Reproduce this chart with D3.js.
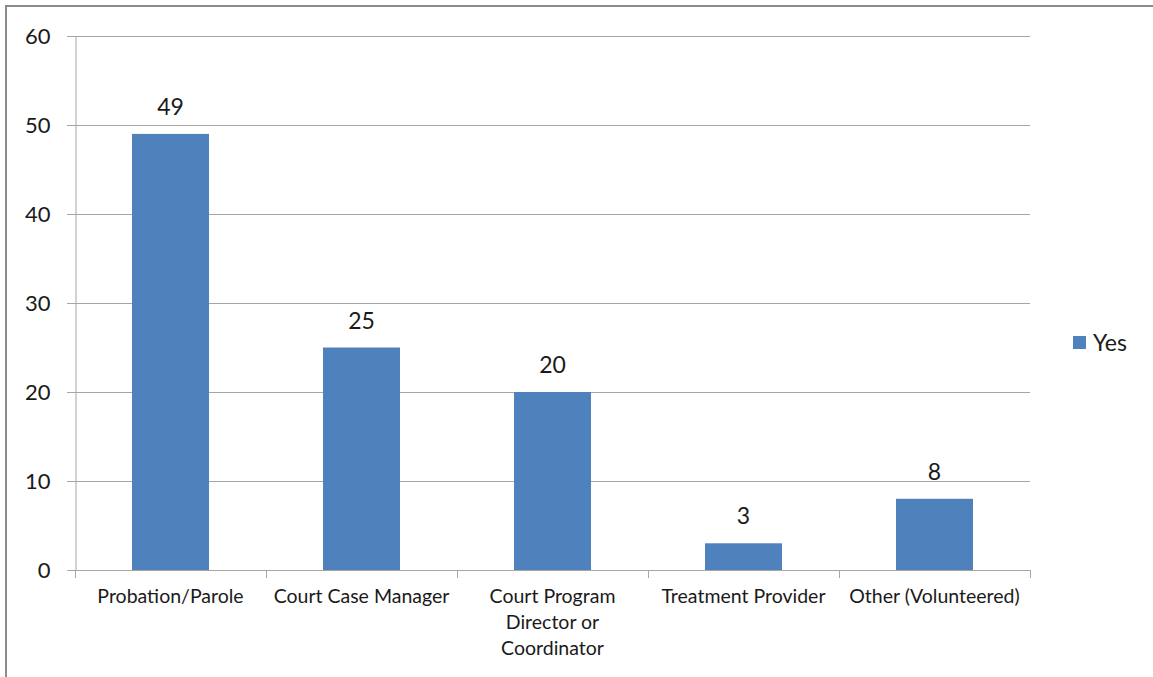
<!DOCTYPE html>
<html>
<head>
<meta charset="utf-8">
<script src="https://cdn.jsdelivr.net/npm/d3@7"></script>
<style>
  html, body { margin: 0; padding: 0; background: #fff; }
  svg { display: block; font-family: Lato, "Open Sans", sans-serif; }
</style>
</head>
<body>
<svg id="chart" width="1153" height="677"></svg>
<script>
// Categories and their "Yes" counts
const categories = [
  ["Probation/Parole"],
  ["Court Case Manager"],
  ["Court Program", "Director or", "Coordinator"],
  ["Treatment Provider"],
  ["Other (Volunteered)"]
];
const yesValues = [49, 25, 20, 3, 8];
const yTicks = [0, 10, 20, 30, 40, 50, 60];
const seriesName = "Yes";

const svg = d3.select("#chart");
const barColor = "#4f81bd";
const gridColor = "#a6a6a6";
const textColor = "#1a1a1a";

// outer frame (top and left edges visible)
svg.append("line").attr("x1", 5).attr("x2", 1153).attr("y1", 6).attr("y2", 6)
  .attr("stroke", "#8c8c8c").attr("stroke-width", 2);
svg.append("line").attr("x1", 6).attr("x2", 6).attr("y1", 5).attr("y2", 677)
  .attr("stroke", "#8c8c8c").attr("stroke-width", 2);

const plot = { left: 75, right: 1030, top: 36, bottom: 570 };

const x = d3.scaleBand()
  .domain(d3.range(categories.length))
  .range([plot.left, plot.right])
  .paddingInner(0).paddingOuter(0);
const y = d3.scaleLinear().domain([0, 60]).range([plot.bottom, plot.top]);

// gridlines
svg.append("g").selectAll("line").data(yTicks.filter(t => t > 0)).join("line")
  .attr("x1", plot.left - 8).attr("x2", plot.right)
  .attr("y1", d => Math.round(y(d)) + 0.5).attr("y2", d => Math.round(y(d)) + 0.5)
  .attr("stroke", gridColor).attr("stroke-width", 1);

// y axis
const yAxis = svg.append("g").attr("transform", `translate(${plot.left + 0.5},0)`)
  .call(d3.axisLeft(y).tickValues(yTicks).tickSize(8).tickPadding(17));
yAxis.select(".domain").attr("stroke", gridColor);
yAxis.selectAll(".tick line").attr("stroke", gridColor);
yAxis.selectAll(".tick text").attr("font-size", 22).attr("fill", textColor)
  .attr("font-family", "Lato, 'Open Sans', sans-serif");

// bars
const barW = 77;
svg.append("g").selectAll("rect").data(yesValues).join("rect")
  .attr("x", (d, i) => x(i) + x.bandwidth() / 2 - barW / 2)
  .attr("width", barW)
  .attr("y", d => y(d))
  .attr("height", d => y(0) - y(d))
  .attr("fill", barColor);

// x axis line with ticks at category boundaries
svg.append("line").attr("x1", plot.left).attr("x2", plot.right)
  .attr("y1", plot.bottom + 0.5).attr("y2", plot.bottom + 0.5)
  .attr("stroke", gridColor);
const bounds = d3.range(categories.length + 1).map(i => i < categories.length ? x(i) : plot.right);
svg.append("g").selectAll("line").data(bounds).join("line")
  .attr("x1", d => Math.round(d) + 0.5).attr("x2", d => Math.round(d) + 0.5)
  .attr("y1", plot.bottom).attr("y2", plot.bottom + 8)
  .attr("stroke", gridColor);

// category labels
const lab = svg.append("g").selectAll("text").data(categories).join("text")
  .attr("text-anchor", "middle")
  .attr("font-size", 19.5).attr("fill", textColor)
  .attr("x", (d, i) => x(i) + x.bandwidth() / 2)
  .attr("y", 603);
lab.selectAll("tspan").data(d => d).join("tspan")
  .attr("x", function () { return d3.select(this.parentNode).attr("x"); })
  .attr("dy", (d, i) => i === 0 ? 0 : 26)
  .text(d => d);

// value labels
svg.append("g").selectAll("text").data(yesValues).join("text")
  .attr("text-anchor", "middle")
  .attr("font-size", 23).attr("fill", textColor)
  .attr("x", (d, i) => x(i) + x.bandwidth() / 2)
  .attr("y", d => y(d) - 19)
  .text(d => d);

// legend
svg.append("rect").attr("x", 1073).attr("y", 336).attr("width", 13).attr("height", 13)
  .attr("fill", barColor);
svg.append("text").attr("x", 1093).attr("y", 351).attr("font-size", 23)
  .attr("fill", textColor).text(seriesName);
</script>
</body>
</html>
